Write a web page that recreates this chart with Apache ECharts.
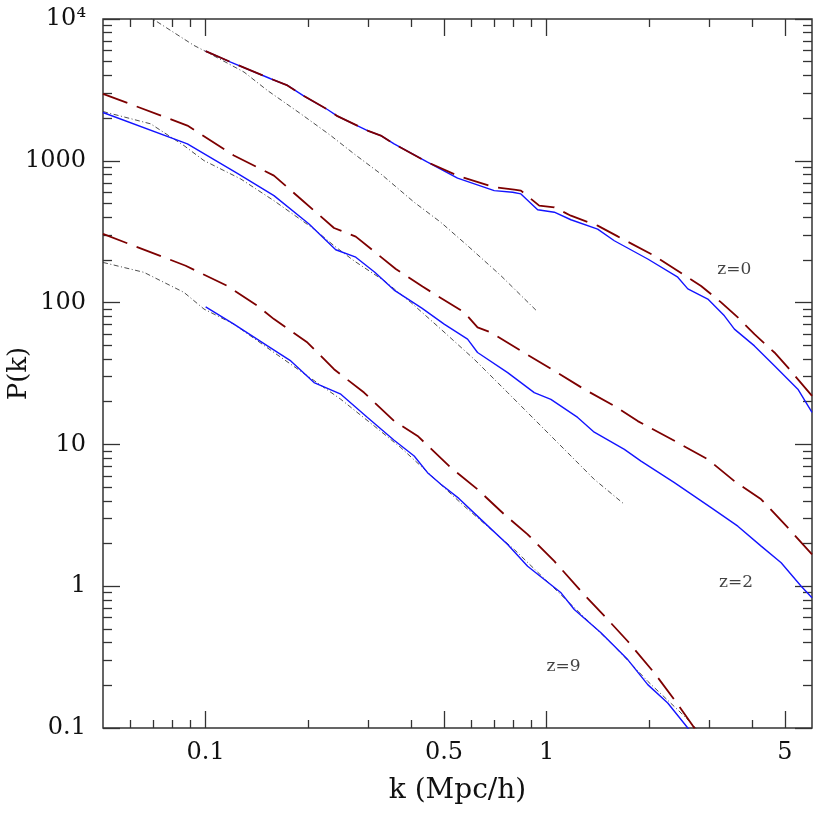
<!DOCTYPE html>
<html>
<head>
<meta charset="utf-8">
<script src="https://cdn.jsdelivr.net/npm/echarts@6/dist/echarts.min.js"></script>
<style>
    html, body { margin: 0; padding: 0; background: #fff; }
    #chart { width: 830px; height: 830px; }
</style>
</head>
<body>
<div id="chart"></div>
<script>
// --- 数据 (k in Mpc/h, P(k)) ---
const kRange = [0.05, 6];
const pRange = [0.1, 10000];

const kLabelValues = [0.1, 0.5, 1, 5];
const kMajorTicks = [0.1, 0.5, 1, 5];
const kMinorTicks = [0.06, 0.07, 0.08, 0.09, 0.2, 0.3, 0.4, 0.6, 0.7, 0.8, 0.9, 2, 3, 4];

const pLabelValues = [0.1, 1, 10, 100, 1000, 10000];
const pLabelText = ['0.1', '1', '10', '100', '1000', '10⁴'];
const pMajorTicks = [0.1, 1, 10, 100, 1000, 10000];
const pMinorTicks = [
    0.2, 0.3, 0.4, 0.5, 0.6, 0.7, 0.8, 0.9,
    2, 3, 4, 5, 6, 7, 8, 9,
    20, 30, 40, 50, 60, 70, 80, 90,
    200, 300, 400, 500, 600, 700, 800, 900,
    2000, 3000, 4000, 5000, 6000, 7000, 8000, 9000
];

// z=0
const z0Blue = [[0.1, 5940], [0.1184, 4970], [0.1551, 3790], [0.1737, 3400], [0.1943, 2860], [0.2276, 2300], [0.2435, 2065], [0.2983, 1634], [0.3264, 1507], [0.357, 1316], [0.4474, 977], [0.5479, 754], [0.7019, 616], [0.7946, 600], [0.8406, 584], [0.941, 452], [1.053, 434], [1.178, 384], [1.411, 330], [1.579, 273], [1.979, 203], [2.424, 151], [2.594, 125], [2.969, 106], [3.321, 80.7], [3.553, 65.0], [4.068, 49.5], [4.656, 35.8], [5.454, 24.5], [6.0, 16.8]];
const z0Red = [[0.1, 5940], [0.1184, 4970], [0.1551, 3790], [0.1737, 3400], [0.1943, 2860], [0.2276, 2300], [0.2435, 2065], [0.2983, 1634], [0.3264, 1507], [0.357, 1316], [0.4474, 977], [0.5479, 786], [0.7019, 651], [0.8034, 626], [0.8406, 616], [0.951, 483], [1.053, 470], [1.178, 410], [1.411, 349], [1.616, 293], [2.069, 214], [2.535, 156], [2.837, 131], [3.248, 100.3], [3.636, 78.6], [4.068, 59.9], [4.656, 44.5], [5.097, 34.9], [6.0, 22.0]];
const z0Lin = [[0.0676, 10550], [0.0924, 6510], [0.1, 5905], [0.1296, 4224], [0.1518, 3132], [0.1901, 2144], [0.2327, 1507], [0.2724, 1119], [0.3264, 808], [0.4088, 510], [0.4895, 368], [0.5862, 252], [0.734, 155], [0.93, 88.5]];

// z=2
const z2Blue = [[0.05, 2190], [0.0884, 1316], [0.1239, 815], [0.1586, 568], [0.201, 358], [0.2407, 236], [0.2756, 209], [0.3133, 163.5], [0.357, 122.5], [0.4305, 91.5], [0.5005, 70.5], [0.5862, 55.2], [0.6271, 44.5], [0.7685, 32.1], [0.9196, 23.2], [1.029, 20.8], [1.233, 15.5], [1.379, 12.2], [1.69, 9.23], [1.891, 7.63], [2.369, 5.37], [3.035, 3.58], [3.636, 2.65], [4.256, 1.917], [4.872, 1.463], [5.577, 1.0], [6.0, 0.828]];
const z2Red = [[0.05, 2968], [0.0884, 1773], [0.121, 1090], [0.1586, 786], [0.1901, 538], [0.2379, 336], [0.2756, 292], [0.3611, 172.5], [0.4325, 129.7], [0.573, 85.3], [0.6271, 66.8], [0.6864, 61.6], [0.8406, 45.7], [1.053, 33.0], [1.289, 24.5], [1.579, 18.7], [1.85, 14.6], [2.369, 10.6], [2.969, 7.85], [3.553, 5.51], [4.256, 4.10], [5.097, 2.585], [6.0, 1.675]];
const z2Lin = [[0.05, 2226], [0.069, 1822], [0.0864, 1280], [0.0989, 1003], [0.1267, 745], [0.1586, 523], [0.2079, 330], [0.2379, 252], [0.2724, 197], [0.3338, 142.5], [0.3997, 100.3], [0.4895, 65.0], [0.6128, 39.9], [0.7685, 23.2], [0.9622, 13.5], [1.152, 8.75], [1.379, 5.67], [1.69, 3.78]];

// z=9
const z9Blue = [[0.1, 93.4], [0.121, 70.5], [0.1518, 49.5], [0.1777, 38.8], [0.2079, 27.3], [0.2491, 22.6], [0.2983, 15.5], [0.357, 10.7], [0.4088, 8.28], [0.4474, 6.32], [0.4895, 5.23], [0.5527, 4.16], [0.6414, 2.96], [0.7685, 1.97], [0.8794, 1.384], [1.102, 0.898], [1.205, 0.685], [1.443, 0.469], [1.729, 0.3036], [1.979, 0.2022], [2.265, 0.1502], [2.594, 0.1], [2.743, 0.0827]];
const z9Red = [[0.05, 305], [0.0874, 182], [0.1158, 131], [0.1418, 95], [0.1586, 76.5], [0.1989, 52.3], [0.2379, 33.9], [0.2914, 23.2], [0.357, 14.6], [0.4183, 11.47], [0.5237, 6.86], [0.6271, 4.82], [0.7508, 3.21], [0.8794, 2.32], [1.053, 1.502], [1.261, 0.922], [1.51, 0.582], [1.729, 0.409], [2.069, 0.2446], [2.369, 0.1584], [2.712, 0.1], [2.837, 0.0827]];
const z9Lin = [[0.05, 192], [0.0659, 163.5], [0.0864, 118], [0.0989, 90], [0.121, 70.5], [0.1586, 44.5], [0.1989, 30.4], [0.2491, 20.8], [0.3119, 13.5], [0.3736, 9.49], [0.4276, 7.04], [0.573, 3.67], [0.8034, 1.816], [1.152, 0.784], [1.579, 0.377], [1.979, 0.2134], [2.479, 0.1276], [2.712, 0.1026], [2.837, 0.0897]];

// 红移标注
const zLabels = [[3.55, 172, 'z=0'], [3.59, 1.06, 'z=2'], [1.12, 0.271, 'z=9']];

// --- 样式 ---
const FONT = 'DejaVu Serif';
const AXIS_COLOR = '#333';
const BLUE = '#1414ff';
const RED = '#7d0000';
const GRAY = '#3a3a3a';

function logAxis(range, position, ticks, tickLen, extra) {
    const axis = {
        type: 'log',
        logBase: 10,
        min: range[0],
        max: range[1],
        position: position,
        axisLine: { show: false },
        splitLine: { show: false },
        minorTick: { show: false },
        axisTick: {
            show: true,
            inside: true,
            length: tickLen,
            customValues: ticks,
            lineStyle: { color: AXIS_COLOR, width: 1.3 }
        },
        axisLabel: { show: false }
    };
    return Object.assign(axis, extra || {});
}

function curve(data, kind) {
    const s = {
        type: 'line',
        data: data,
        symbol: 'none',
        showSymbol: false,
        silent: true,
        clip: true
    };
    if (kind === 'blue') {
        s.lineStyle = { color: BLUE, width: 1.4, type: 'solid' };
        s.z = 3;
    } else if (kind === 'red') {
        s.lineStyle = { color: RED, width: 1.8, type: [26, 10] };
        s.z = 4;
    } else {
        s.lineStyle = { color: GRAY, width: 0.9, type: [5, 2.5, 1, 2.5] };
        s.z = 2;
    }
    return s;
}

const chart = echarts.init(document.getElementById('chart'), null, { renderer: 'canvas' });

const option = {
    animation: false,
    backgroundColor: '#fff',
    grid: {
        left: 103, right: 18, top: 19, bottom: 102,
        outerBoundsMode: 'none',
        containLabel: false,
        show: true,
        borderColor: AXIS_COLOR,
        borderWidth: 1.5,
        backgroundColor: 'transparent'
    },
    xAxis: [
        logAxis(kRange, 'bottom', kMajorTicks, 17, {
            name: 'k (Mpc/h)',
            nameLocation: 'middle',
            nameGap: 49,
            nameMoveOverlap: false,
            nameTextStyle: { fontFamily: FONT, fontSize: 28, color: '#111' },
            axisLabel: {
                show: true,
                customValues: kLabelValues,
                formatter: v => String(v),
                fontFamily: FONT,
                fontSize: 24,
                color: '#111',
                margin: 13
            }
        }),
        logAxis(kRange, 'bottom', kMinorTicks, 8),
        logAxis(kRange, 'top', kMajorTicks, 17),
        logAxis(kRange, 'top', kMinorTicks, 8)
    ],
    yAxis: [
        logAxis(pRange, 'left', pMajorTicks, 17, {
            name: 'P(k)',
            nameLocation: 'middle',
            nameGap: 71,
            nameRotate: 90,
            nameMoveOverlap: false,
            nameTextStyle: { fontFamily: FONT, fontSize: 26, color: '#111' },
            axisLabel: {
                show: true,
                customValues: pLabelValues,
                formatter: v => {
                    const i = pLabelValues.findIndex(p => Math.abs(p - v) / p < 1e-6);
                    return i >= 0 ? pLabelText[i] : '';
                },
                fontFamily: FONT,
                fontSize: 24,
                color: '#111',
                margin: 17
            }
        }),
        logAxis(pRange, 'left', pMinorTicks, 9),
        logAxis(pRange, 'right', pMajorTicks, 17),
        logAxis(pRange, 'right', pMinorTicks, 9)
    ],
    series: [
        curve(z0Lin, 'line'),
        curve(z2Lin, 'line'),
        curve(z9Lin, 'line'),
        curve(z0Blue, 'blue'),
        curve(z2Blue, 'blue'),
        curve(z9Blue, 'blue'),
        curve(z0Red, 'red'),
        curve(z2Red, 'red'),
        curve(z9Red, 'red'),
        {
            type: 'scatter',
            data: zLabels,
            symbolSize: 0,
            silent: true,
            label: {
                show: true,
                position: 'inside',
                formatter: p => p.value[2],
                fontFamily: FONT,
                fontSize: 17,
                color: '#111'
            }
        }
    ]
};

chart.setOption(option);
</script>
</body>
</html>
